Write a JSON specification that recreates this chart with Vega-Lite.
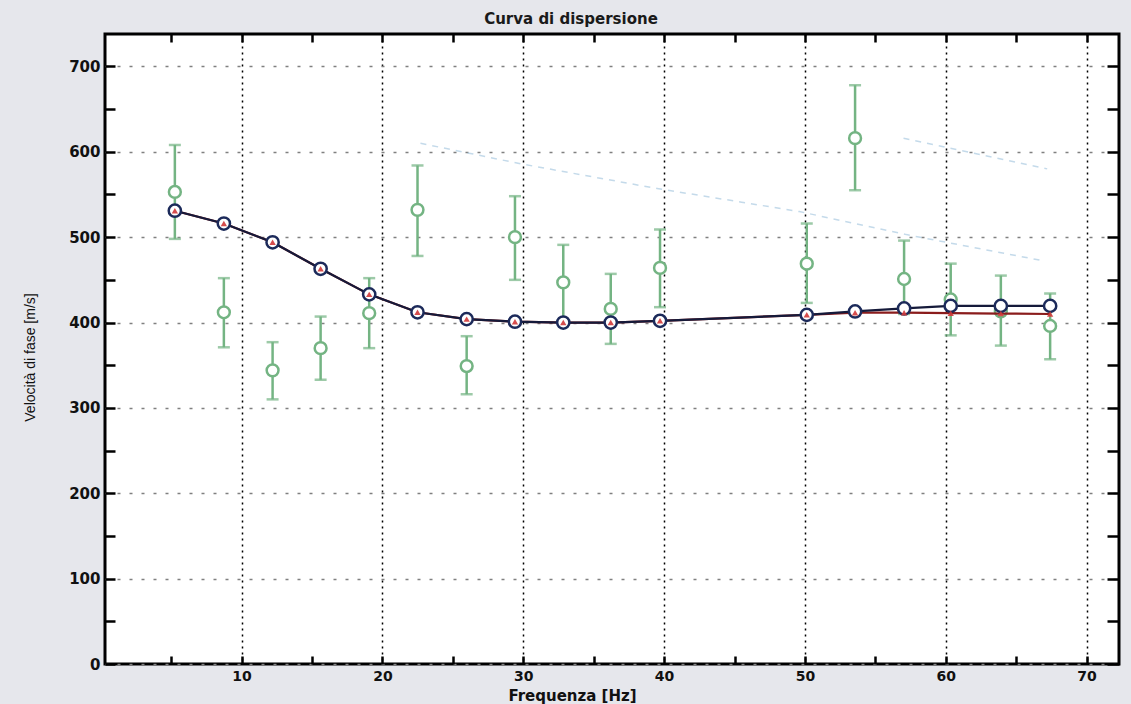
{
  "$schema": "https://vega.github.io/schema/vega-lite/v6.json",
  "width": 1014,
  "height": 630,
  "autosize": {"type": "none"},
  "padding": {"left": 105, "top": 34, "right": 12, "bottom": 40},
  "background": "#e6e7ec",
  "config": {
    "view": {"stroke": "black", "strokeWidth": 3, "fill": "white"},
    "font": "DejaVu Sans"
  },
  "title": {
    "text": "Curva di dispersione",
    "font": "DejaVu Sans",
    "fontSize": 15,
    "fontWeight": "bold",
    "color": "#1a1a1a",
    "dx": -41,
    "offset": 6
  },
  "datasets": {
    "modello": [
      {"f": 5.26, "v": 531, "serie": "A"},
      {"f": 8.74, "v": 516, "serie": "A"},
      {"f": 12.2, "v": 494, "serie": "A"},
      {"f": 15.61, "v": 463, "serie": "A"},
      {"f": 19.06, "v": 433, "serie": "A"},
      {"f": 22.49, "v": 412, "serie": "A"},
      {"f": 25.98, "v": 404, "serie": "A"},
      {"f": 29.41, "v": 401, "serie": "A"},
      {"f": 32.84, "v": 400, "serie": "A"},
      {"f": 36.21, "v": 400, "serie": "A"},
      {"f": 39.71, "v": 402, "serie": "A"},
      {"f": 50.13, "v": 409, "serie": "A"},
      {"f": 53.56, "v": 413, "serie": "A"},
      {"f": 57.04, "v": 416.5, "serie": "A"},
      {"f": 60.35, "v": 419.5, "serie": "A"},
      {"f": 63.91, "v": 419.5, "serie": "A"},
      {"f": 67.41, "v": 419.5, "serie": "A"},
      {"f": 5.26, "v": 531, "serie": "B"},
      {"f": 8.74, "v": 516, "serie": "B"},
      {"f": 12.2, "v": 494, "serie": "B"},
      {"f": 15.61, "v": 463, "serie": "B"},
      {"f": 19.06, "v": 433, "serie": "B"},
      {"f": 22.49, "v": 412, "serie": "B"},
      {"f": 25.98, "v": 404, "serie": "B"},
      {"f": 29.41, "v": 401, "serie": "B"},
      {"f": 32.84, "v": 400, "serie": "B"},
      {"f": 36.21, "v": 400, "serie": "B"},
      {"f": 39.71, "v": 402, "serie": "B"},
      {"f": 50.13, "v": 409, "serie": "B"},
      {"f": 53.56, "v": 411.5, "serie": "B"},
      {"f": 57.04, "v": 411.5, "serie": "B"},
      {"f": 60.35, "v": 411, "serie": "B"},
      {"f": 63.91, "v": 410.5, "serie": "B"},
      {"f": 67.41, "v": 410, "serie": "B"}
    ],
    "sperimentale": [
      {"f": 5.26, "v": 553, "lo": 498, "hi": 608},
      {"f": 8.74, "v": 412, "lo": 371, "hi": 452},
      {"f": 12.2, "v": 344, "lo": 310, "hi": 377},
      {"f": 15.61, "v": 370, "lo": 333, "hi": 407},
      {"f": 19.06, "v": 411, "lo": 370, "hi": 452},
      {"f": 22.49, "v": 532, "lo": 478, "hi": 584},
      {"f": 25.98, "v": 349, "lo": 316, "hi": 384},
      {"f": 29.41, "v": 500, "lo": 450, "hi": 548},
      {"f": 32.84, "v": 447, "lo": 403, "hi": 491},
      {"f": 36.21, "v": 416, "lo": 375, "hi": 457},
      {"f": 39.71, "v": 464, "lo": 418, "hi": 509},
      {"f": 50.13, "v": 469, "lo": 423, "hi": 516},
      {"f": 53.56, "v": 616, "lo": 555, "hi": 678},
      {"f": 57.04, "v": 451, "lo": 410, "hi": 496},
      {"f": 60.35, "v": 427, "lo": 385, "hi": 469},
      {"f": 63.91, "v": 413, "lo": 373, "hi": 455},
      {"f": 67.41, "v": 396, "lo": 357, "hi": 434}
    ],
    "modi": [
      {"f": 22.7, "v": 610, "modo": "M1"},
      {"f": 29.8, "v": 586, "modo": "M1"},
      {"f": 39.5, "v": 557, "modo": "M1"},
      {"f": 45.5, "v": 541, "modo": "M1"},
      {"f": 49.6, "v": 530, "modo": "M1"},
      {"f": 57.2, "v": 503, "modo": "M1"},
      {"f": 66.7, "v": 473, "modo": "M1"},
      {"f": 57.0, "v": 616, "modo": "M2"},
      {"f": 67.2, "v": 580, "modo": "M2"}
    ]
  },
  "layer": [
    {
      "layer": [
        {
          "data": {"name": "sperimentale"},
          "mark": {"type": "rule", "color": "#74b483", "strokeWidth": 2.5},
          "encoding": {
            "x": {
              "field": "f",
              "type": "quantitative",
              "scale": {"domain": [0.3, 72.3], "nice": false, "zero": false},
              "axis": {
                "orient": "bottom",
                "values": [5, 10, 15, 20, 25, 30, 35, 40, 45, 50, 55, 60, 65, 70],
                "labelExpr": "datum.value % 10 === 0 ? datum.label : ''",
                "domain": false,
                "tickSize": -8,
                "tickColor": "black",
                "tickWidth": 2.5,
                "grid": true,
                "gridColor": "black",
                "gridDash": [2, 4],
                "gridWidth": 1.5,
                "gridOpacity": {"condition": {"test": "datum.value % 10 === 0", "value": 1}, "value": 0},
                "labelFont": "DejaVu Sans",
                "labelFontSize": 14,
                "labelFontWeight": "bold",
                "labelColor": "#111111",
                "labelPadding": 13,
                "title": "Frequenza [Hz]",
                "titleFont": "DejaVu Sans",
                "titleFontSize": 15,
                "titleFontWeight": "bold",
                "titleColor": "#111111",
                "titleX": 467,
                "titleY": 36,
                "titleBaseline": "alphabetic",
                "titleAlign": "center"
              }
            },
            "y": {
              "field": "lo",
              "type": "quantitative",
              "scale": {"domain": [0, 738], "nice": false, "zero": false},
              "axis": {
                "orient": "left",
                "values": [0, 50, 100, 150, 200, 250, 300, 350, 400, 450, 500, 550, 600, 650, 700],
                "labelExpr": "datum.value % 100 === 0 ? datum.label : ''",
                "domain": false,
                "tickSize": -10,
                "tickColor": "black",
                "tickWidth": 2.5,
                "grid": true,
                "gridColor": "#808080",
                "gridDash": [3, 9],
                "gridWidth": 1.5,
                "gridOpacity": {"condition": {"test": "datum.value % 100 === 0", "value": 1}, "value": 0},
                "labelFont": "DejaVu Sans",
                "labelFontSize": 15,
                "labelFontWeight": "bold",
                "labelColor": "#111111",
                "labelPadding": 15,
                "title": "Velocità di fase [m/s]",
                "titleFont": "Liberation Sans",
                "titleFontSize": 14,
                "titleFontWeight": "normal",
                "titleColor": "#111111",
                "titleAngle": -90,
                "titleX": -75,
                "titleY": 323,
                "titleAlign": "center",
                "titleBaseline": "middle"
              }
            },
            "y2": {"field": "hi"}
          }
        },
        {
          "data": {"name": "sperimentale"},
          "mark": {"type": "tick", "orient": "horizontal", "color": "#74b483", "size": 12, "thickness": 2.5},
          "encoding": {
            "x": {"field": "f", "type": "quantitative"},
            "y": {"field": "lo", "type": "quantitative"}
          }
        },
        {
          "data": {"name": "sperimentale"},
          "mark": {"type": "tick", "orient": "horizontal", "color": "#74b483", "size": 12, "thickness": 2.5},
          "encoding": {
            "x": {"field": "f", "type": "quantitative"},
            "y": {"field": "hi", "type": "quantitative"}
          }
        },
        {
          "data": {"name": "sperimentale"},
          "mark": {"type": "point", "shape": "circle", "size": 140, "filled": false, "fill": "white", "fillOpacity": 1, "stroke": "#74b483", "strokeWidth": 2.5},
          "encoding": {
            "x": {"field": "f", "type": "quantitative"},
            "y": {"field": "v", "type": "quantitative"}
          }
        },
        {
          "data": {"name": "modello"},
          "transform": [{"filter": "datum.serie === 'B'"}],
          "mark": {"type": "line", "color": "#8a1c1c", "strokeWidth": 2.2},
          "encoding": {
            "x": {"field": "f", "type": "quantitative"},
            "y": {"field": "v", "type": "quantitative"}
          }
        },
        {
          "data": {"name": "modello"},
          "transform": [{"filter": "datum.serie === 'A'"}],
          "mark": {"type": "line", "color": "#151a3a", "strokeWidth": 2.2},
          "encoding": {
            "x": {"field": "f", "type": "quantitative"},
            "y": {"field": "v", "type": "quantitative"}
          }
        },
        {
          "data": {"name": "modello"},
          "transform": [{"filter": "datum.serie === 'A'"}],
          "mark": {"type": "point", "shape": "circle", "size": 150, "filled": false, "fill": "white", "fillOpacity": 1, "stroke": "#1c2a5a", "strokeWidth": 2.5},
          "encoding": {
            "x": {"field": "f", "type": "quantitative"},
            "y": {"field": "v", "type": "quantitative"}
          }
        },
        {
          "data": {"name": "modello"},
          "transform": [{"filter": "datum.serie === 'B'"}],
          "mark": {"type": "point", "shape": "triangle-up", "size": 40, "filled": true, "color": "#d23a3a", "opacity": 0.9},
          "encoding": {
            "x": {"field": "f", "type": "quantitative"},
            "y": {"field": "v", "type": "quantitative"}
          }
        }
      ]
    },
    {
      "data": {"name": "modi"},
      "mark": {"type": "line", "color": "#9cc2dc", "strokeWidth": 1.5, "strokeDash": [6, 6], "opacity": 0.6},
      "encoding": {
        "detail": {"field": "modo", "type": "nominal"},
        "x": {
          "field": "f",
          "type": "quantitative",
          "scale": {"domain": [0.3, 72.3], "nice": false, "zero": false},
          "axis": {
            "orient": "top",
            "values": [5, 10, 15, 20, 25, 30, 35, 40, 45, 50, 55, 60, 65, 70],
            "labels": false,
            "domain": false,
            "grid": false,
            "tickSize": -8,
            "tickColor": "black",
            "tickWidth": 2.5,
            "title": null
          }
        },
        "y": {
          "field": "v",
          "type": "quantitative",
          "scale": {"domain": [0, 738], "nice": false, "zero": false},
          "axis": {
            "orient": "right",
            "values": [0, 50, 100, 150, 200, 250, 300, 350, 400, 450, 500, 550, 600, 650, 700],
            "labels": false,
            "domain": false,
            "grid": false,
            "tickSize": -12,
            "tickColor": "black",
            "tickWidth": 2.5,
            "title": null
          }
        }
      }
    }
  ],
  "resolve": {"scale": {"x": "independent", "y": "independent"}}
}
